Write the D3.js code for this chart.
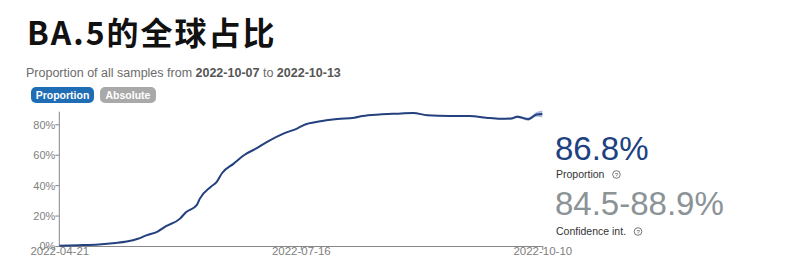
<!DOCTYPE html>
<html><head><meta charset="utf-8">
<script src="https://cdn.jsdelivr.net/npm/d3@7"></script>
<style>
body{margin:0;background:#fff;}
svg{display:block;}
</style></head>
<body>
<svg id="chart" width="800" height="274"></svg>
<script>
const title = "BA.5的全球占比";
const dates = ["2022-04-21","2022-04-28","2022-05-05","2022-05-11","2022-05-15","2022-05-19","2022-05-22","2022-05-26","2022-05-29","2022-06-03","2022-06-05","2022-06-09","2022-06-10","2022-06-14","2022-06-16","2022-06-18","2022-06-22","2022-06-26","2022-06-30","2022-07-04","2022-07-10","2022-07-15","2022-07-17","2022-07-23","2022-07-29","2022-08-04","2022-08-07","2022-08-13","2022-08-19","2022-08-25","2022-08-30","2022-09-07","2022-09-14","2022-09-20","2022-09-25","2022-09-29","2022-10-01","2022-10-05","2022-10-08","2022-10-10"];
const proportion = [0.2,0.5,1.0,2.0,3.0,4.8,7.0,9.5,13.0,18.0,22.0,27.0,31.0,39.0,42.0,48.0,54.0,60.0,64.0,68.5,74.0,77.5,79.5,82.0,83.5,84.3,85.5,86.5,87.0,87.4,86.0,85.5,85.5,84.3,83.6,83.8,85.0,83.4,86.5,86.8];
const ciHalf = [0.1,0.1,0.1,0.2,0.2,0.2,0.3,0.3,0.3,0.3,0.3,0.3,0.3,0.3,0.3,0.3,0.3,0.3,0.3,0.3,0.3,0.3,0.3,0.3,0.3,0.3,0.3,0.3,0.3,0.3,0.3,0.3,0.4,0.4,0.5,0.6,0.8,1.0,1.6,2.2];
const yTicks = [0,20,40,60,80];
const xTickLabels = ["2022-04-21","2022-07-16","2022-10-10"];
const subtitleParts = [["Proportion of all samples from ",false],["2022-10-07",true],[" to ",false],["2022-10-13",true]];
const buttons = [["Proportion","#1f6db5"],["Absolute","#a9a9a9"]];
const bigValue = "86.8%";
const bigCI = "84.5-88.9%";
const statLabels = ["Proportion","Confidence int."];

const parse = d3.timeParse("%Y-%m-%d");
const data = dates.map((d,i)=>({date:parse(d), v:proportion[i], lo:proportion[i]-ciHalf[i], hi:proportion[i]+ciHalf[i]}));

const svg = d3.select("#chart");
const latin = "'Liberation Sans', Arial, sans-serif";

svg.append("text").attr("x",27).attr("y",45)
  .style("font-family","'Noto Sans CJK SC', sans-serif").style("font-weight","700")
  .style("font-size","32px").style("letter-spacing","2px").attr("fill","#111").text(title);

const sub = svg.append("text").attr("x",26).attr("y",77)
  .style("font-family",latin).style("font-size","12.5px").attr("fill","#6b6b6b");
subtitleParts.forEach(([t,b])=>sub.append("tspan").text(t).style("font-weight",b?"700":"400").attr("fill",b?"#555":"#6b6b6b"));

let bx = 31;
const bw = [63,56];
buttons.forEach(([t,c],i)=>{
  svg.append("rect").attr("x",bx).attr("y",87).attr("width",bw[i]).attr("height",16).attr("rx",5).attr("fill",c);
  svg.append("text").attr("x",bx+bw[i]/2).attr("y",99).attr("text-anchor","middle")
    .style("font-family",latin).style("font-weight","700").style("font-size","10.5px").attr("fill","#fff").text(t);
  bx += bw[i]+6;
});

const x = d3.scaleTime().domain([parse(xTickLabels[0]), parse(xTickLabels[2])]).range([59.3,542.3]);
const y = d3.scaleLinear().domain([0,80]).range([246,124.3]);

const gy = svg.append("g").attr("transform","translate(59.3,0)")
  .call(d3.axisLeft(y).tickValues(yTicks).tickFormat(d=>d+"%").tickSize(4).tickSizeOuter(0));
gy.select(".domain").attr("d",`M0,${y(88.3)}V246`).attr("stroke","#888");
gy.selectAll(".tick line").attr("stroke","#888");
gy.selectAll(".tick text").attr("x",-4).attr("dy","0.35em").style("font-family",latin).style("font-size","11px").attr("fill","#808080");

const gx = svg.append("g").attr("transform","translate(0,246)")
  .call(d3.axisBottom(x).tickValues(xTickLabels.map(parse)).tickFormat(d3.timeFormat("%Y-%m-%d")).tickSize(4).tickSizeOuter(0));
gx.select(".domain").attr("stroke","#888");
gx.selectAll(".tick line").attr("stroke","#888");
gx.selectAll(".tick text").attr("dy","0.5em").attr("y",3).style("font-family",latin).style("font-size","11.5px").attr("fill","#808080");
gx.selectAll(".tick").filter((d,i)=>i===0).select("line").remove();

svg.append("path").datum(data)
  .attr("d", d3.area().x(d=>x(d.date)).y0(d=>y(d.lo)).y1(d=>y(d.hi)).curve(d3.curveMonotoneX))
  .attr("fill","#6f86c2").attr("opacity",0.55);
svg.append("path").datum(data)
  .attr("d", d3.line().x(d=>x(d.date)).y(d=>y(d.v)).curve(d3.curveMonotoneX))
  .attr("fill","none").attr("stroke","#24407f").attr("stroke-width",2);

svg.append("text").attr("x",555).attr("y",159.5).style("font-family",latin).style("font-size","33px").attr("fill","#20417f").text(bigValue);
svg.append("text").attr("x",555).attr("y",215).style("font-family",latin).style("font-size","33px").attr("fill","#8b9397").text(bigCI);

[[178,174.5],[235,231.5]].forEach(([ty,cy],i)=>{
  const t = svg.append("text").attr("x",556).attr("y",ty).style("font-family",latin).style("font-size","10.5px").attr("fill","#333").text(statLabels[i]);
  const w = t.node().getComputedTextLength();
  const cx = 556 + w + 12;
  svg.append("circle").attr("cx",cx).attr("cy",cy).attr("r",3.8).attr("fill","none").attr("stroke","#555").attr("stroke-width",0.8);
  svg.append("text").attr("x",cx).attr("y",cy+2.2).attr("text-anchor","middle").style("font-family",latin).style("font-size","6px").attr("fill","#555").text("?");
});
</script>
</body></html>
